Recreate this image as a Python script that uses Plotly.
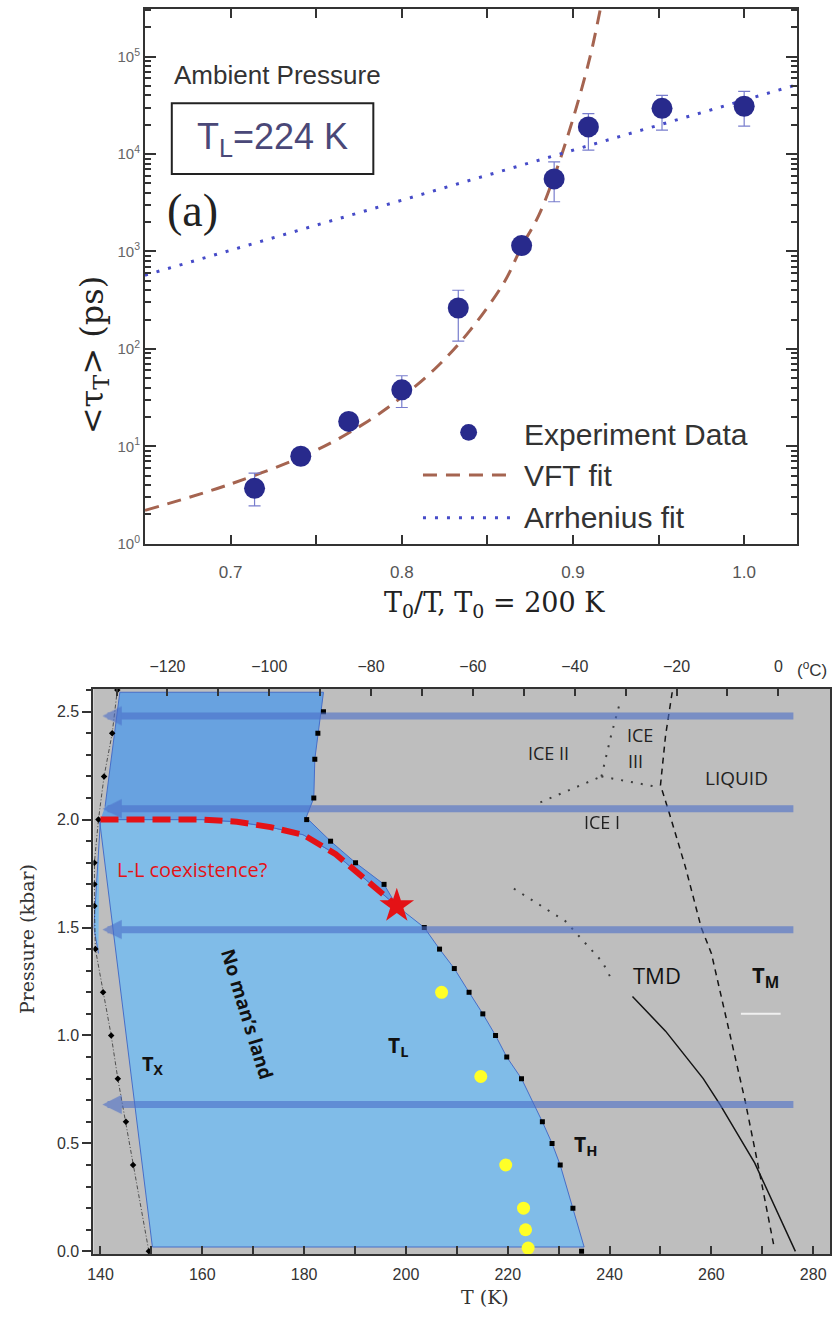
import plotly.graph_objects as go

W, H = 832, 1318
def px(x): return x / W
def py(y): return 1 - y / H

# ---------------- Panel (a) data ----------------
ratio = [0.714, 0.741, 0.769, 0.800, 0.833, 0.870, 0.889, 0.909, 0.952, 1.000]
tau = [3.7, 7.9, 18, 38, 263, 1150, 5560, 19000, 29500, 31000]
tau_err_plus = [1.6, 1.0, 2.0, 15, 137, 150, 2740, 7000, 10500, 13000]
tau_err_minus = [1.26, 1.0, 2.0, 13, 143, 150, 2320, 8000, 11900, 11600]
vft_x = [0.65, 0.70, 0.75, 0.78, 0.80, 0.82, 0.84, 0.86, 0.87, 0.88, 0.89, 0.90, 0.91, 0.917]
vft_tau = [2.2, 4.1, 9.1, 18, 32, 64, 156, 490, 1120, 2350, 6600, 23000, 100000, 380000]
arr_x = [0.65, 1.03]
arr_tau = [570, 51000]
x_tick_vals = [0.7, 0.8, 0.9, 1.0]
x_tick_text = ["0.7", "0.8", "0.9", "1.0"]
x_minor_vals = [0.75, 0.85, 0.95]
y_tick_vals = [1, 10, 100, 1000, 10000, 100000]
y_tick_text = ["10<sup>0</sup>", "10<sup>1</sup>", "10<sup>2</sup>", "10<sup>3</sup>", "10<sup>4</sup>", "10<sup>5</sup>"]
y_minor_vals = [m * d for d in [1, 10, 100, 1000, 10000, 100000] for m in [2, 3, 4, 5, 6, 7, 8, 9]]

# ---------------- Panel (b) data ----------------
light_T = [139.8, 150.2, 235.0, 232.8, 230.3, 228.7, 226.8, 222.7, 219.8, 217.6, 215.1, 212.4,
           209.5, 206.6, 203.6, 198.2, 192.7, 186.2, 179.8, 173.4, 166.8, 160, 140, 138.7, 139.6]
light_P = [2.0, 0.02, 0.02, 0.2, 0.4, 0.5, 0.6, 0.8, 0.9, 1.0, 1.1, 1.2,
           1.31, 1.4, 1.5, 1.6, 1.71, 1.84, 1.93, 1.965, 1.99, 2.0, 2.0, 1.5, 1.38]
dark_T = [140.9, 143.8, 183.8, 182.7, 182.1, 181.9, 180.4, 185.2, 190.1, 195.7, 198.2,
          192.7, 186.2, 179.8, 173.4, 166.8, 160, 140]
dark_P = [2.06, 2.59, 2.59, 2.4, 2.28, 2.1, 2.01, 1.9, 1.8, 1.7, 1.6,
          1.71, 1.84, 1.93, 1.965, 1.99, 2.0, 2.0]
tx_T = [149.5, 146.4, 145.0, 143.4, 142.1, 140.5, 139.0, 138.8, 138.8, 138.8, 139.6, 140.7, 142.3, 143.3]
tx_P = [0.0, 0.4, 0.6, 0.8, 1.0, 1.2, 1.4, 1.6, 1.7, 1.8, 2.0, 2.2, 2.4, 2.6]
th_T = [234.5, 232.8, 230.3, 228.7, 226.8, 222.7, 219.8, 217.6, 215.1, 212.4, 209.5, 206.6,
        203.6, 195.7, 190.1, 185.2, 180.5, 181.9, 182.1, 182.7, 183.8]
th_P = [0.0, 0.2, 0.4, 0.5, 0.6, 0.8, 0.9, 1.0, 1.1, 1.2, 1.31, 1.4,
        1.5, 1.7, 1.8, 1.9, 2.0, 2.1, 2.28, 2.4, 2.5]
ll_T = [140, 150, 160, 166.8, 173.4, 179.8, 186.2, 192.7, 198.2]
ll_P = [2.0, 2.0, 2.0, 1.99, 1.965, 1.93, 1.84, 1.71, 1.6]
crit_T = [198.2]
crit_P = [1.6]
yellow_T = [207.0, 214.7, 219.6, 223.1, 223.5, 224.0]
yellow_P = [1.2, 0.81, 0.4, 0.2, 0.1, 0.015]
tmd_dot_T = [221.2, 231.3, 238.6, 240.6]
tmd_dot_P = [1.68, 1.53, 1.34, 1.25]
tmd_T = [244.5, 251.0, 258.4, 261.7, 268.5, 276.5]
tmd_P = [1.18, 1.02, 0.80, 0.68, 0.41, 0.0]
tm_T = [252.3, 251.0, 250.0, 251.6, 254.9, 258.0, 260.0, 266.6, 269.5, 272.4]
tm_P = [2.59, 2.39, 2.16, 2.04, 1.78, 1.5, 1.38, 0.70, 0.36, 0.01]
ice12_T = [226.4, 238.4]
ice12_P = [2.08, 2.2]
ice23_T = [238.4, 240.3, 241.9]
ice23_P = [2.2, 2.39, 2.53]
ice13_T = [238.4, 249.7]
ice13_P = [2.2, 2.15]
white_T = [265.8, 273.6]
white_P = [1.10, 1.10]
arrow_P = [2.48, 2.05, 1.49, 0.68]
arrow_T_start = 276.4
arrow_T_end = 140.4

fig = go.Figure()

navy = "rgb(40,42,140)"
# ---- panel (a) traces ----
fig.add_trace(go.Scatter(x=vft_x, y=vft_tau, mode="lines", line=dict(color="rgb(165,100,80)", width=3, dash="14px,9px", shape="spline"),
                         xaxis="x", yaxis="y", showlegend=False))
fig.add_trace(go.Scatter(x=arr_x, y=arr_tau, mode="lines", line=dict(color="rgb(70,75,200)", width=3, dash="3px,9px"),
                         xaxis="x", yaxis="y", showlegend=False))
fig.add_trace(go.Scatter(x=ratio, y=tau, mode="markers", marker=dict(color=navy, size=21),
                         error_y=dict(type="data", array=tau_err_plus, arrayminus=tau_err_minus, symmetric=False,
                                      color="rgb(120,125,205)", thickness=1.2, width=6),
                         xaxis="x", yaxis="y", showlegend=False))

# ---- panel (b) traces ----
fig.add_trace(go.Scatter(x=light_T, y=light_P, mode="lines", fill="toself", fillcolor="rgb(128,188,232)",
                         line=dict(color="rgb(70,110,200)", width=1), xaxis="x2", yaxis="y2", showlegend=False))
fig.add_trace(go.Scatter(x=dark_T, y=dark_P, mode="lines", fill="toself", fillcolor="rgb(104,162,224)",
                         line=dict(color="rgb(70,110,200)", width=1), xaxis="x2", yaxis="y2", showlegend=False))
fig.add_trace(go.Scatter(x=tx_T, y=tx_P, mode="lines+markers", line=dict(color="rgb(50,50,50)", width=0.8, dash="4px,2px,1px,2px"),
                         marker=dict(symbol="diamond", size=5, color="black"), xaxis="x2", yaxis="y2", showlegend=False))
fig.add_trace(go.Scatter(x=th_T, y=th_P, mode="markers",
                         marker=dict(symbol="square", size=5, color="black"), xaxis="x2", yaxis="y2", showlegend=False))
for xs, ys in [(tmd_dot_T, tmd_dot_P), (ice12_T, ice12_P), (ice23_T, ice23_P), (ice13_T, ice13_P)]:
    fig.add_trace(go.Scatter(x=xs, y=ys, mode="lines", line=dict(color="rgb(60,60,60)", width=2, dash="2px,8px"),
                             xaxis="x2", yaxis="y2", showlegend=False))
fig.add_trace(go.Scatter(x=tmd_T, y=tmd_P, mode="lines", line=dict(color="rgb(20,20,20)", width=1.5),
                         xaxis="x2", yaxis="y2", showlegend=False))
fig.add_trace(go.Scatter(x=tm_T, y=tm_P, mode="lines", line=dict(color="rgb(20,20,20)", width=1.5, dash="6px,5px"),
                         xaxis="x2", yaxis="y2", showlegend=False))
fig.add_trace(go.Scatter(x=white_T, y=white_P, mode="lines", line=dict(color="rgb(240,240,240)", width=2),
                         xaxis="x2", yaxis="y2", showlegend=False))
fig.add_trace(go.Scatter(x=ll_T, y=ll_P, mode="lines", line=dict(color="rgb(228,18,22)", width=6, dash="18px,8px"),
                         xaxis="x2", yaxis="y2", showlegend=False))
fig.add_trace(go.Scatter(x=crit_T, y=crit_P, mode="markers", marker=dict(symbol="star", size=26, color="rgb(228,18,22)"),
                         xaxis="x2", yaxis="y2", showlegend=False))
fig.add_trace(go.Scatter(x=yellow_T, y=yellow_P, mode="markers", marker=dict(size=13, color="rgb(255,255,40)"),
                         xaxis="x2", yaxis="y2", showlegend=False))
fig.add_trace(go.Scatter(x=[], y=[], xaxis="x3", yaxis="y2", showlegend=False))

annotations = []
for p in arrow_P:
    annotations.append(dict(x=arrow_T_end, y=p, ax=arrow_T_start, ay=p, xref="x2", yref="y2", axref="x2", ayref="y2",
                            text="", showarrow=True, arrowhead=2, arrowsize=0.55, arrowwidth=7,
                            arrowcolor="rgba(75,110,200,0.6)"))

def ann(x, y, text, size, color="black", family="Liberation Sans", xanchor="left", angle=0):
    annotations.append(dict(x=px(x), y=py(y), xref="paper", yref="paper", text=text, showarrow=False,
                            xanchor=xanchor, yanchor="middle", textangle=angle,
                            font=dict(size=size, color=color, family=family)))

# panel (a) texts
ann(167, 75, "Ambient Pressure", 26, "#333")
ann(268, 140, "T<sub>L</sub>=224 K", 36, "#4a4878", xanchor="center")
ann(188, 212, "(a)", 46, "#222", "Liberation Serif", xanchor="center")
ann(88, 357, "&lt;τ<sub>T</sub>&gt; (ps)", 32, "#222", "DejaVu Serif", xanchor="center", angle=-90)
ann(492, 608, "T<sub>0</sub>/T, T<sub>0</sub> = 200 K", 27, "#222", "DejaVu Serif", xanchor="center")
ann(520, 437, "Experiment Data", 30, "#333")
ann(520, 478, "VFT fit", 30, "#333")
ann(520, 521, "Arrhenius fit", 30, "#333")

# panel (b) texts
sans = "Open Sans"
ann(524, 758, "ICE II", 18, "#222", sans)
ann(623, 739, "ICE", 18, "#222", sans)
ann(625, 766, "III", 18, "#222", sans)
ann(702, 783, "LIQUID", 19, "#222", sans)
ann(580, 827, "ICE I", 18, "#222", sans)
ann(630, 981, "TMD", 22, "#111", sans)
ann(749, 982, "<b>T<sub>M</sub></b>", 22, "#111", sans)
ann(570, 1152, "<b>T<sub>H</sub></b>", 21, "#111", sans)
ann(383, 1052, "<b>T<sub>L</sub></b>", 21, "#111", sans)
ann(135, 1071, "<b>T<sub>X</sub></b>", 20, "#111", sans)
ann(243, 1020, "<b>No man’s land</b>", 19, "#111", sans, xanchor="center", angle=73)
ann(110, 875, "L-L coexistence?", 20, "rgb(228,18,22)", sans)
ann(795, 673, "(<sup>o</sup>C)", 17, "#333", "Liberation Sans")
ann(21, 945, "Pressure (kbar)", 19, "#333", "DejaVu Serif", xanchor="center", angle=-90)
ann(482, 1305, "T (K)", 19, "#333", "DejaVu Serif", xanchor="center")

shapes = [
    dict(type="rect", xref="paper", yref="paper", x0=px(167), x1=px(370), y0=py(104), y1=py(175),
         line=dict(color="#222", width=2)),
    dict(type="circle", xref="paper", yref="paper", x0=px(457.5), x1=px(474.5), y0=py(426.5), y1=py(443.5),
         fillcolor=navy, line=dict(color=navy, width=0)),
    dict(type="line", xref="paper", yref="paper", x0=px(420), x1=px(512), y0=py(478), y1=py(478),
         line=dict(color="rgb(165,100,80)", width=3, dash="14px,9px")),
    dict(type="line", xref="paper", yref="paper", x0=px(420), x1=px(512), y0=py(521), y1=py(521),
         line=dict(color="rgb(70,75,200)", width=3, dash="3px,9px")),
    dict(type="rect", xref="x2 domain", yref="y2 domain", x0=0, x1=1, y0=0, y1=1,
         fillcolor="rgb(190,190,190)", line=dict(width=0), layer="below"),
]

axis_line = dict(showline=True, linecolor="#333", linewidth=2, showgrid=False, zeroline=False)

fig.update_layout(
    width=W, height=H, margin=dict(l=0, r=0, t=0, b=0),
    paper_bgcolor="white", plot_bgcolor="white",
    annotations=annotations, shapes=shapes,
    xaxis=dict(domain=[px(140), px(797)], range=[0.65, 1.031], anchor="y", **axis_line,
               mirror="allticks", ticks="inside", ticklen=9, tickwidth=2, tickcolor="#333",
               tickmode="array", tickvals=x_tick_vals, ticktext=x_tick_text,
               minor=dict(tickmode="array", tickvals=x_minor_vals, ticks="inside", ticklen=9, tickwidth=2, tickcolor="#333"),
               tickfont=dict(size=17, color="#555", family="Liberation Sans"), ticklabelstandoff=12),
    yaxis=dict(domain=[py(547), py(9)], type="log", range=[0, 5.49], anchor="x", **axis_line,
               mirror="allticks", ticks="inside", ticklen=11, tickwidth=2, tickcolor="#333",
               tickmode="array", tickvals=y_tick_vals, ticktext=y_tick_text,
               minor=dict(tickmode="array", tickvals=y_minor_vals, ticks="inside", ticklen=6, tickwidth=1.5, tickcolor="#333"),
               tickfont=dict(size=15, color="#666", family="Liberation Sans")),
    xaxis2=dict(domain=[px(88), px(830)], range=[138.6, 283.3], anchor="y2", **axis_line,
                ticks="inside", ticklen=8, tickwidth=2, tickcolor="#333", dtick=20, tick0=140,
                minor=dict(dtick=10, ticks="inside", ticklen=8, tickwidth=2, tickcolor="#333"),
                tickfont=dict(size=16, color="#333", family="Liberation Sans"), ticklabelstandoff=4),
    xaxis3=dict(overlaying="x2", side="top", anchor="y2", range=[138.6 - 273.15, 283.3 - 273.15], **axis_line,
                ticks="inside", ticklen=7, tickwidth=2, tickcolor="#333", dtick=20, tick0=0,
                minor=dict(dtick=10, ticks="inside", ticklen=7, tickwidth=2, tickcolor="#333"),
                tickfont=dict(size=16, color="#333", family="Liberation Sans"), ticklabelstandoff=8),
    yaxis2=dict(domain=[py(1262), py(693)], range=[-0.014, 2.606], anchor="x2", **axis_line, mirror=True,
                ticks="outside", ticklen=9, tickwidth=2, tickcolor="#333", dtick=0.5, tick0=0, tickformat=".1f",
                minor=dict(dtick=0.1, ticks="outside", ticklen=5, tickwidth=1.5, tickcolor="#333"),
                tickfont=dict(size=16, color="#333", family="Liberation Sans")),
)

fig.write_html("out.html")
